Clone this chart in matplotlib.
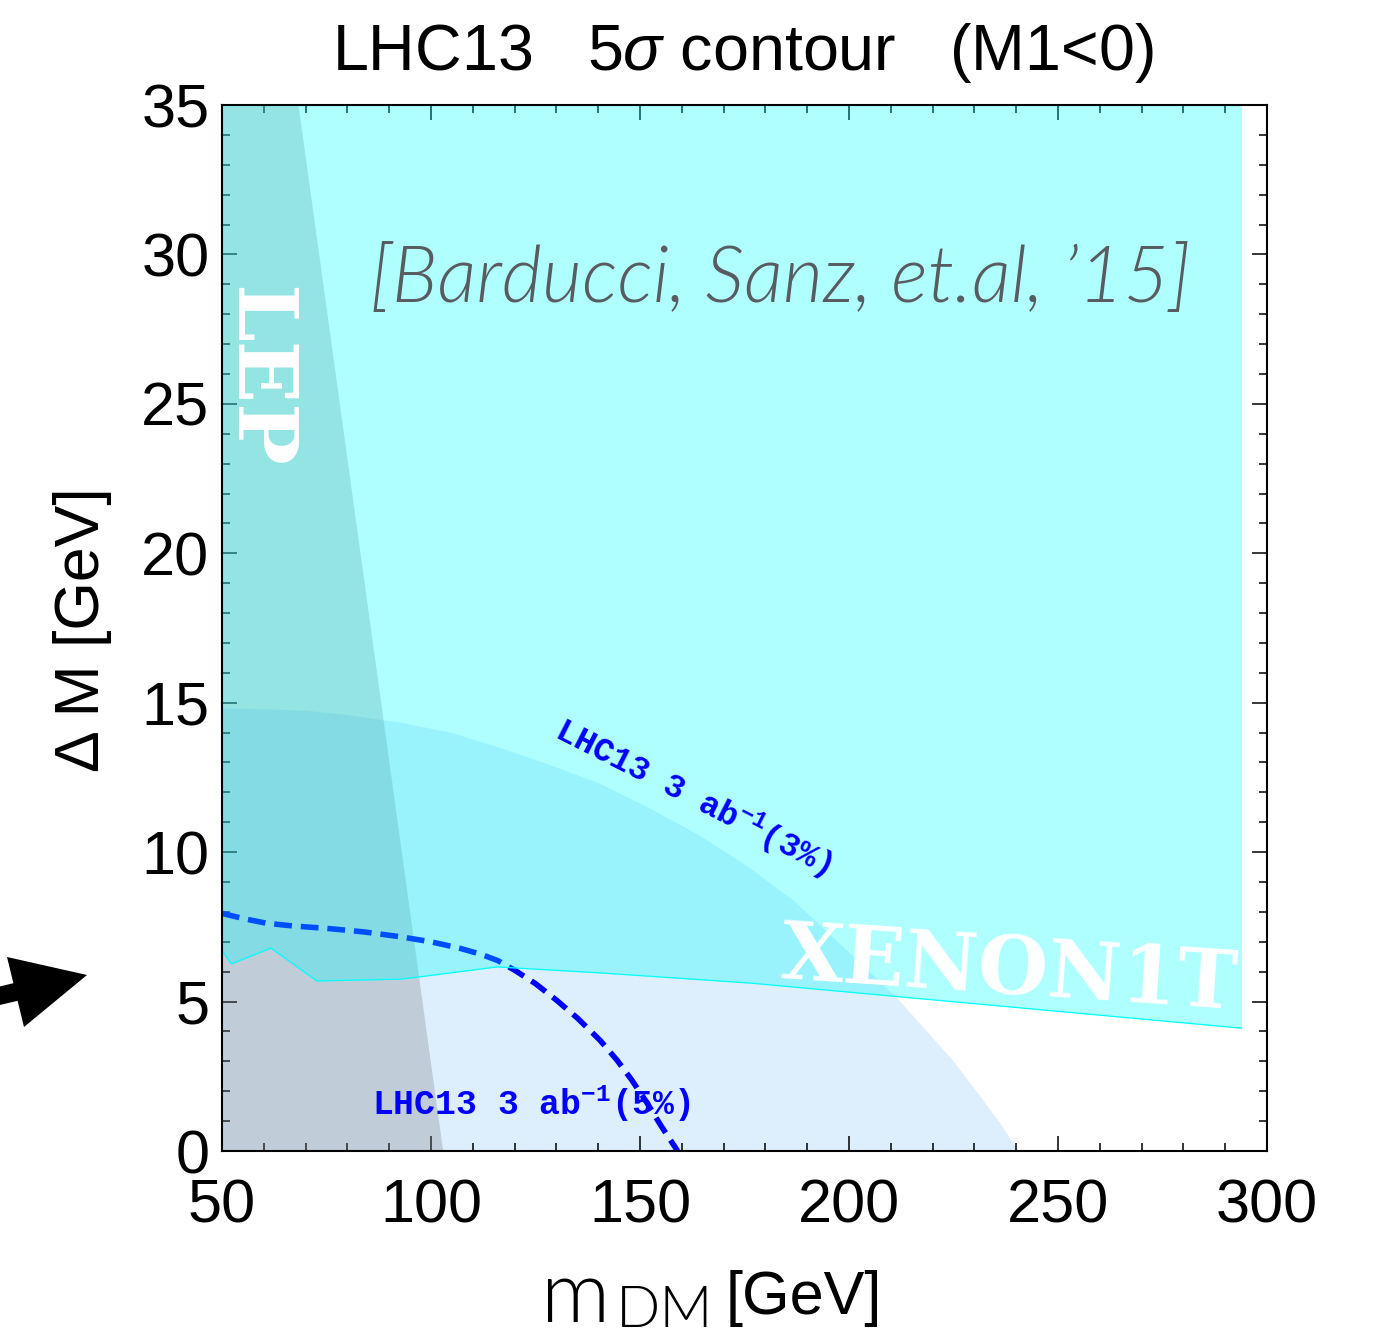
import matplotlib
matplotlib.use("Agg")
import matplotlib.pyplot as plt
from matplotlib.patches import Polygon
from matplotlib.transforms import IdentityTransform
from matplotlib.ticker import MultipleLocator

plt.rcParams['font.family'] = ['Liberation Sans', 'DejaVu Sans']
plt.rcParams['mathtext.fontset'] = 'custom'
plt.rcParams['mathtext.rm'] = 'Liberation Mono:bold'
plt.rcParams['mathtext.it'] = 'Liberation Sans:italic'
plt.rcParams['mathtext.bf'] = 'Liberation Mono:bold'

# ---------------- data ----------------
# XENON1T excluded region: lower boundary (region above it, up to top of plot)
xenon_x = [50, 52.2, 61.7, 72.7, 92.6, 96.9, 115.8, 140.4, 176.3, 293.9]
xenon_y = [6.72, 6.26, 6.79, 5.69, 5.75, 5.82, 6.16, 5.96, 5.62, 4.11]

# LEP excluded band: right edge x at y=0 and at y=35
lep_y = [0, 35]
lep_x = [102.8, 68.2]

# LHC13 3 ab^-1 (3%) reach (filled below)
lhc3_x = [50, 60, 70, 80, 92.6, 105, 116.5, 128, 140.4, 152, 164.4, 176, 186.6,
          195, 203, 211.6, 218, 225, 231, 236, 240.5]
lhc3_y = [14.82, 14.8, 14.75, 14.6, 14.35, 14.0, 13.5, 12.95, 12.3, 11.5, 10.55,
          9.5, 8.4, 7.3, 6.25, 5.1, 4.1, 3.0, 1.9, 0.95, 0]

# LHC13 3 ab^-1 (5%) reach (dashed)
lhc5_x = [50, 55, 60.7, 67, 75, 84, 92.6, 100, 107, 112, 116, 120, 125, 130,
          135, 140.4, 144.5, 148, 151.5, 155, 159]
lhc5_y = [7.95, 7.78, 7.62, 7.53, 7.45, 7.33, 7.17, 7.0, 6.78, 6.58, 6.37, 6.05,
          5.6, 5.05, 4.45, 3.71, 3.04, 2.38, 1.65, 0.85, 0]

x_major = [50, 100, 150, 200, 250, 300]
y_major = [0, 5, 10, 15, 20, 25, 30, 35]

W, H = 1373, 1339
fig = plt.figure(figsize=(W / 100, H / 100), dpi=100)
ax = fig.add_axes([222 / W, 1 - 1151 / H, (1267 - 222) / W, (1151 - 105) / H])

ax.fill_between(lhc3_x, 0, lhc3_y, color='#ddeefd', lw=0, zorder=1)
ax.fill_betweenx(lep_y, 50, lep_x, color='0.5', alpha=0.3, lw=0, zorder=2)
ax.plot(lhc5_x, lhc5_y, color='#0000ff', lw=4, dashes=(3.2, 1.6), zorder=3)
ax.fill_between(xenon_x, xenon_y, 35, color='#00ffff', alpha=0.31, lw=0, zorder=4)
ax.plot(xenon_x, xenon_y, color='#00ffff', lw=0.9, zorder=4)

ax.set_xlim(50, 300)
ax.set_ylim(0, 35)
ax.set_xticks(x_major)
ax.set_yticks(y_major)
ax.xaxis.set_minor_locator(MultipleLocator(10))
ax.yaxis.set_minor_locator(MultipleLocator(1))
ax.tick_params(which='both', direction='in', top=True, right=True, width=1.1, color='black')
ax.tick_params(which='major', length=10.8, labelsize=44)
ax.tick_params(which='minor', length=5.8)
ax.tick_params(axis='x', which='major', pad=20)
ax.tick_params(axis='y', which='major', pad=9)
for s in ax.spines.values():
    s.set_linewidth(1.5)
    s.set_zorder(10)

# texts inside
ax.text(183.7, 29.14, '[Barducci, Sanz, et.al, \u201915]', fontsize=56, color='#585c60',
        family=['Lato', 'DejaVu Sans'], fontweight=300, style='italic',
        ha='center', va='center', zorder=6)
ax.text(58.5, 25.9, 'LEP', fontsize=59, color='white', family=['DejaVu Serif'],
        fontweight='bold', rotation=-90, ha='center', va='center', zorder=6)
ax.text(238.3, 5.99, 'XENON1T', fontsize=58, color='white', family=['DejaVu Serif'],
        fontweight='bold', rotation=-3.9, ha='center', va='center',
        rotation_mode='anchor', zorder=6)
ax.text(162.7, 11.81, 'LHC13 3 ab$^{-1}$(3%)', fontsize=24, color='#0000ff',
        family=['Liberation Mono'], fontweight='bold', rotation=-27,
        ha='center', va='center', rotation_mode='anchor', zorder=6)
ax.text(124.0, 1.2, 'LHC13 3 ab$^{-1}$(5%)', fontsize=25, color='#0000ff',
        family=['Liberation Mono'], fontweight='bold',
        ha='center', va='baseline', zorder=6)

# title and axis labels
fig.text(743 / W, 1 - 70 / H, 'LHC13   5$\\mathit{\\sigma}$ contour   (M1<0)', fontsize=46.5,
         ha='center', va='baseline')
fig.text(83 / W, 1 - 630 / H, '\u0394 M [GeV]', fontsize=45, rotation=90,
         ha='center', va='center')
fig.text(541 / W, 1 - 1322 / H, 'm', fontsize=62, family=['Lato', 'DejaVu Sans'],
         fontweight=300, ha='left', va='baseline', color='black')
fig.text(616 / W, 1 - 1327 / H, 'DM', fontsize=42, family=['Lato', 'DejaVu Sans'],
         fontweight=300, ha='left', va='baseline', color='black')
fig.text(726 / W, 1 - 1314 / H, '[GeV]', fontsize=44, ha='left', va='baseline')

# arrow at the left
arrow_pts = [(-25.5, 992.5), (13.4, 983.2), (7, 957), (87, 975), (24, 1027),
             (17.6, 1000.8), (-21.3, 1010)]
arrow = Polygon([(px, H - py) for px, py in arrow_pts], closed=True,
                facecolor='black', edgecolor='none', transform=IdentityTransform())
fig.patches.append(arrow)

fig.savefig('out.png', dpi=100)
